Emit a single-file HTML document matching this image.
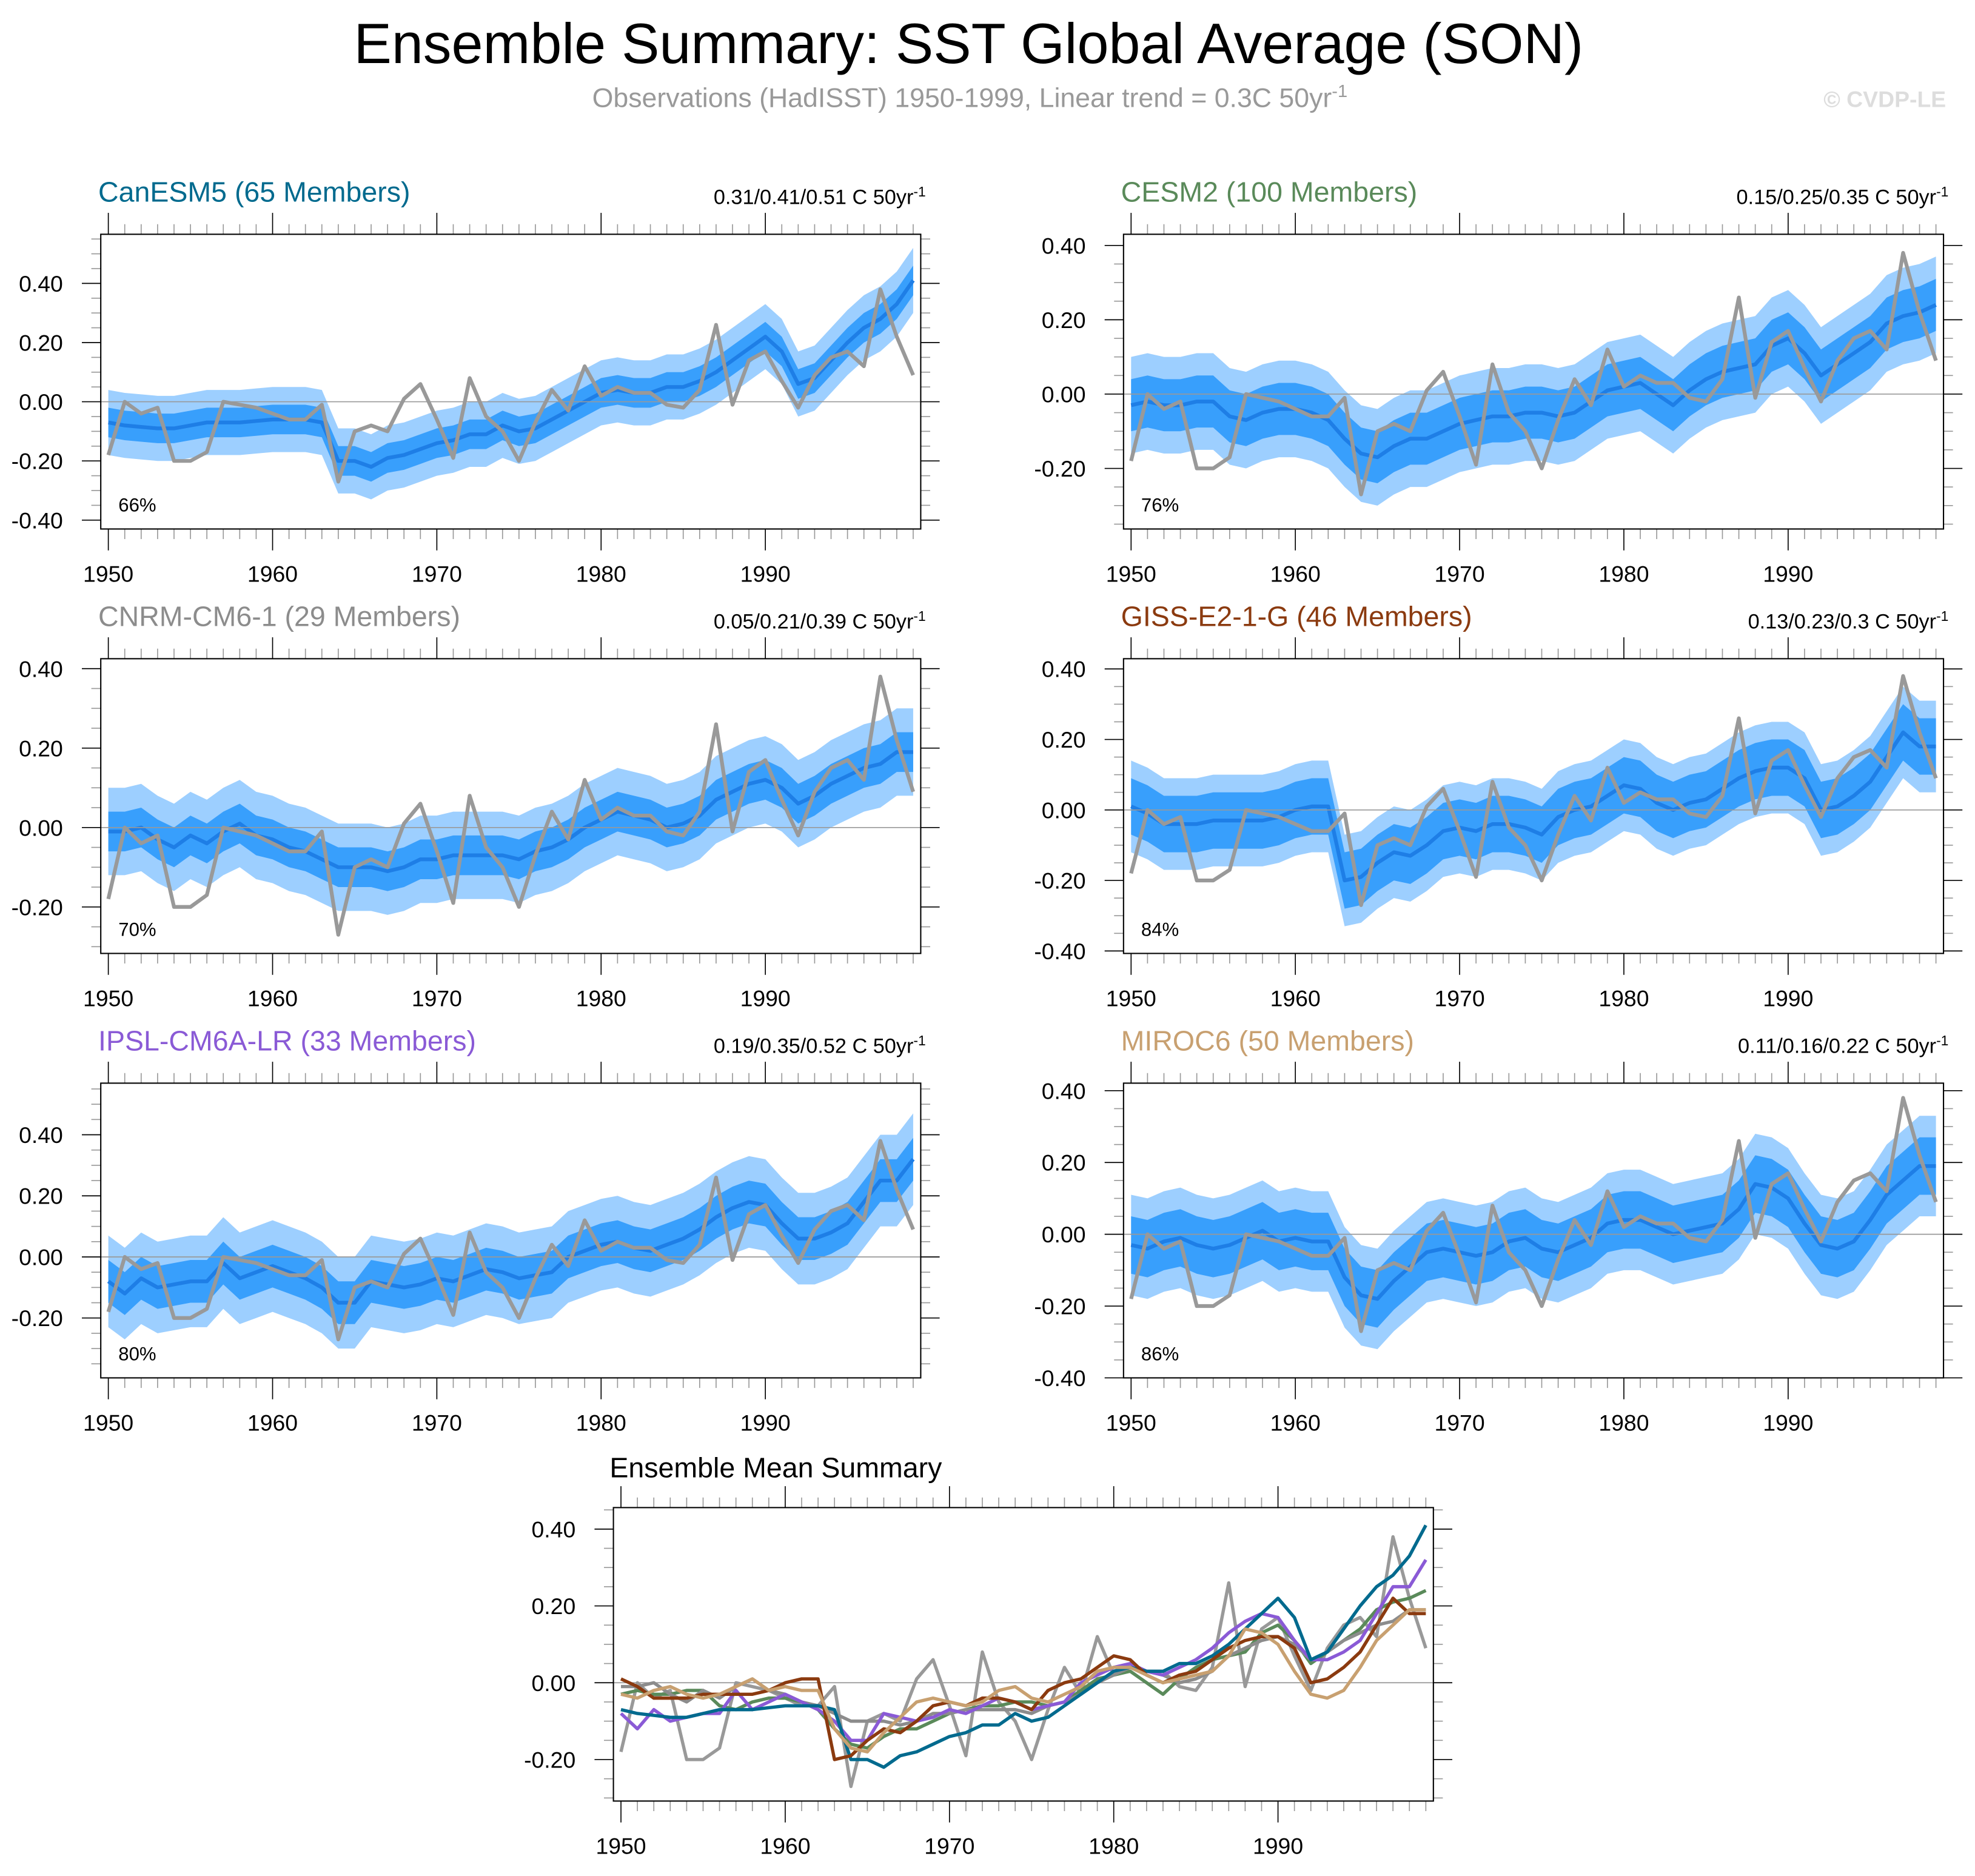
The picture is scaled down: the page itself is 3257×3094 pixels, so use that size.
<!DOCTYPE html>
<html><head><meta charset="utf-8"><style>
html,body{margin:0;padding:0;background:#fff}
svg{display:block;font-family:"Liberation Sans",Arial,sans-serif}
</style></head><body>
<svg id="fig" width="3257" height="3094" viewBox="0 0 1568 1489.5" xmlns="http://www.w3.org/2000/svg">
<rect width="1568" height="1489.5" fill="#fff"/>
<text x="769" y="50" font-size="45" text-anchor="middle" fill="#000">Ensemble Summary: SST Global Average (SON)</text>
<text x="770" y="85" font-size="21.5" text-anchor="middle" fill="#999">Observations (HadISST) 1950-1999, Linear trend = 0.3C 50yr<tspan dy="-8" font-size="14">-1</tspan></text>
<text x="1545" y="85" font-size="18" font-weight="bold" text-anchor="end" fill="#ddd">© CVDP-LE</text>
</svg>
<script>
const years=[];for(let y=1950;y<=1999;y++)years.push(y);
const obs=[-0.18,0.00,-0.04,-0.02,-0.20,-0.20,-0.17,0.00,-0.01,-0.02,-0.04,-0.06,-0.06,-0.01,-0.27,-0.10,-0.08,-0.10,0.01,0.06,-0.06,-0.19,0.08,-0.05,-0.10,-0.20,-0.07,0.04,-0.03,0.12,0.02,0.05,0.03,0.03,-0.01,-0.02,0.04,0.26,-0.01,0.14,0.17,0.07,-0.02,0.09,0.15,0.17,0.12,0.38,0.22,0.09];
const meanCanESM5=[-0.07,-0.08,-0.085,-0.09,-0.09,-0.08,-0.07,-0.07,-0.07,-0.065,-0.06,-0.06,-0.06,-0.07,-0.20,-0.20,-0.22,-0.19,-0.18,-0.16,-0.14,-0.13,-0.11,-0.11,-0.08,-0.10,-0.09,-0.06,-0.03,0.00,0.03,0.04,0.03,0.03,0.05,0.05,0.07,0.10,0.14,0.18,0.22,0.17,0.06,0.08,0.14,0.20,0.25,0.28,0.33,0.41];
const meanCESM2=[-0.03,-0.02,-0.03,-0.03,-0.02,-0.02,-0.06,-0.07,-0.05,-0.04,-0.04,-0.05,-0.07,-0.12,-0.16,-0.17,-0.14,-0.12,-0.12,-0.10,-0.08,-0.07,-0.06,-0.06,-0.05,-0.05,-0.06,-0.05,-0.02,0.01,0.02,0.03,0.00,-0.03,0.01,0.04,0.06,0.07,0.08,0.13,0.15,0.11,0.05,0.08,0.11,0.14,0.19,0.21,0.22,0.24];
const meanCNRM=[-0.01,-0.01,0.00,-0.03,-0.05,-0.02,-0.04,-0.01,0.01,-0.02,-0.03,-0.05,-0.06,-0.08,-0.10,-0.10,-0.10,-0.11,-0.10,-0.08,-0.08,-0.07,-0.07,-0.07,-0.07,-0.08,-0.06,-0.05,-0.03,0.00,0.02,0.04,0.03,0.02,0.00,0.01,0.03,0.07,0.09,0.11,0.12,0.10,0.06,0.08,0.11,0.13,0.15,0.16,0.19,0.19];
const meanGISS=[0.01,-0.01,-0.04,-0.04,-0.04,-0.03,-0.03,-0.03,-0.03,-0.02,0.00,0.01,0.01,-0.20,-0.19,-0.15,-0.12,-0.13,-0.10,-0.06,-0.05,-0.06,-0.04,-0.04,-0.05,-0.07,-0.02,0.00,0.01,0.04,0.07,0.06,0.02,0.00,0.02,0.03,0.06,0.09,0.11,0.12,0.12,0.09,0.00,0.01,0.04,0.08,0.15,0.22,0.18,0.18];
const meanIPSL=[-0.08,-0.12,-0.07,-0.10,-0.09,-0.08,-0.08,-0.02,-0.07,-0.05,-0.03,-0.05,-0.07,-0.10,-0.15,-0.15,-0.08,-0.09,-0.10,-0.09,-0.07,-0.08,-0.06,-0.04,-0.05,-0.07,-0.06,-0.05,0.00,0.02,0.04,0.05,0.03,0.02,0.04,0.06,0.09,0.13,0.16,0.18,0.17,0.11,0.06,0.06,0.08,0.11,0.18,0.25,0.25,0.32];
const meanMIROC=[-0.03,-0.04,-0.02,-0.01,-0.03,-0.04,-0.03,-0.01,0.01,-0.02,-0.01,-0.02,-0.02,-0.12,-0.17,-0.18,-0.13,-0.09,-0.05,-0.04,-0.05,-0.06,-0.05,-0.02,-0.01,-0.04,-0.05,-0.03,-0.01,0.03,0.04,0.04,0.02,0.00,0.01,0.02,0.03,0.07,0.14,0.13,0.10,0.03,-0.03,-0.04,-0.02,0.04,0.11,0.15,0.19,0.19];
const modelNames=["CanESM5 (65 Members)","CESM2 (100 Members)","CNRM-CM6-1 (29 Members)","GISS-E2-1-G (46 Members)","IPSL-CM6A-LR (33 Members)","MIROC6 (50 Members)"];
const trendLabels=["0.31/0.41/0.51","0.15/0.25/0.35","0.05/0.21/0.39","0.13/0.23/0.3","0.19/0.35/0.52","0.11/0.16/0.22"];
const pctLabels=["66%","76%","70%","84%","80%","86%"];
const innerSpread=[0.05,0.07,0.05,0.08,0.07,0.08];
const outerSpread=[0.11,0.13,0.11,0.13,0.15,0.14];
const yTickLabels=[["0.40","0.20","0.00","-0.20","-0.40"],["0.40","0.20","0.00","-0.20"],["0.40","0.20","0.00","-0.20"],["0.40","0.20","0.00","-0.20","-0.40"],["0.40","0.20","0.00","-0.20"],["0.40","0.20","0.00","-0.20","-0.40"]];
const xTickLabels=["1950","1960","1970","1980","1990"];
const means=[meanCanESM5,meanCESM2,meanCNRM,meanGISS,meanIPSL,meanMIROC];
const modelColors=["#006a8e","#5a8a5a","#8c8c8c","#8b3a0f","#8a5ad6","#c8a070"];
const panels=[
 {x:80,y:186,w:651,h:234,ymin:-0.43,ymax:0.566},
 {x:892,y:186,w:651,h:234,ymin:-0.363,ymax:0.43},
 {x:80,y:523,w:651,h:234,ymin:-0.317,ymax:0.425},
 {x:892,y:523,w:651,h:234,ymin:-0.407,ymax:0.429},
 {x:80,y:860,w:651,h:234,ymin:-0.396,ymax:0.569},
 {x:892,y:860,w:651,h:234,ymin:-0.40,ymax:0.421}];
const bottom={x:487,y:1197,w:651,h:233,ymin:-0.308,ymax:0.456};
const X0=1949.54,X1=1999.46;
const svg=document.getElementById('fig');
const NS="http://www.w3.org/2000/svg";
function mk(tag,attrs,parent){const e=document.createElementNS(NS,tag);for(const k in attrs)e.setAttribute(k,attrs[k]);(parent||svg).appendChild(e);return e;}
function axes(p){
 const sx=v=>p.x+(v-X0)/(X1-X0)*p.w;
 const sy=v=>p.y+p.h-(v-p.ymin)/(p.ymax-p.ymin)*p.h;
 return {sx,sy};
}
function pathOf(vals,sx,sy){return vals.map((v,i)=>(i?'L':'M')+sx(years[i]).toFixed(2)+','+sy(v).toFixed(2)).join('');}
function bandOf(vals,s,sx,sy){let d=vals.map((v,i)=>(i?'L':'M')+sx(years[i]).toFixed(2)+','+sy(v+s).toFixed(2)).join('');
 for(let i=vals.length-1;i>=0;i--)d+='L'+sx(years[i]).toFixed(2)+','+sy(vals[i]-s).toFixed(2);return d+'Z';}
function frame(p,g,ax,labels){
 const {sx,sy}=ax;
 mk('line',{x1:p.x,x2:p.x+p.w,y1:sy(0),y2:sy(0),stroke:'#999','stroke-width':0.8},g);
 for(let y=1950;y<=1999;y++){
  const major=(y%10===0);const L=major?17:8;const x=sx(y);
  mk('line',{x1:x,x2:x,y1:p.y+p.h,y2:p.y+p.h+L,stroke:major?'#000':'#999','stroke-width':0.8},g);
  mk('line',{x1:x,x2:x,y1:p.y,y2:p.y-L,stroke:major?'#000':'#999','stroke-width':0.8},g);
 }
 xTickLabels.forEach((lab,i)=>{const t=mk('text',{x:sx(1950+10*i),y:p.y+p.h+42,'font-size':18,'text-anchor':'middle',fill:'#000'},g);
  
  
  t.textContent=lab;});
 for(let k=-20;k<=20;k++){const v=k*0.05;if(v<p.ymin-1e-6||v>p.ymax+1e-6)continue;
  const major=(k%4===0);const L=major?15:7.5;const y=sy(v);
  mk('line',{x1:p.x,x2:p.x-L,y1:y,y2:y,stroke:major?'#000':'#999','stroke-width':0.8},g);
  mk('line',{x1:p.x+p.w,x2:p.x+p.w+L,y1:y,y2:y,stroke:major?'#000':'#999','stroke-width':0.8},g);}
 labels.forEach(lab=>{const v=parseFloat(lab);const t=mk('text',{x:p.x-30,y:sy(v)+6.5,'font-size':18,'text-anchor':'end',fill:'#000'},g);
  
  
  t.textContent=lab;});
 mk('rect',{x:p.x,y:p.y,width:p.w,height:p.h,fill:'none',stroke:'#000','stroke-width':1},g);
}
panels.forEach((p,i)=>{
 const g=mk('g',{});
 
 
 const ax=axes(p);
 const cp='clip'+i;const c=mk('clipPath',{id:cp},g);mk('rect',{x:p.x,y:p.y,width:p.w,height:p.h},c);
 const o=mk('path',{d:bandOf(means[i],outerSpread[i],ax.sx,ax.sy),fill:'#9dcfff','clip-path':'url(#'+cp+')'},g);
 
 
 const n=mk('path',{d:bandOf(means[i],innerSpread[i],ax.sx,ax.sy),fill:'#389ffc','clip-path':'url(#'+cp+')'},g);
 
 
 const m=mk('path',{d:pathOf(means[i],ax.sx,ax.sy),fill:'none',stroke:'#1e7ee6','stroke-width':3,'stroke-linejoin':'round'},g);
 
 
 const ob=mk('path',{d:pathOf(obs,ax.sx,ax.sy),fill:'none',stroke:'#999','stroke-width':3,'stroke-linejoin':'round','clip-path':'url(#'+cp+')'},g);
 
 
 frame(p,g,ax,yTickLabels[i]);
 const t=mk('text',{x:p.x-2,y:p.y-26,'font-size':22.4,fill:modelColors[i]},g);
 
 
 t.textContent=modelNames[i];
 const tr=mk('text',{x:p.x+p.w+4,y:p.y-24,'font-size':16.5,'text-anchor':'end',fill:'#000'},g);
 
 
 tr.textContent=trendLabels[i]+' C 50yr';
 const sp=mk('tspan',{dy:-6,'font-size':11},tr);sp.textContent='-1';
 const pc=mk('text',{x:p.x+14,y:p.y+p.h-14,'font-size':15,fill:'#000'},g);
 
 
 pc.textContent=pctLabels[i];
});
(function(){
 const p=bottom;const g=mk('g',{});
 
 
 const ax=axes(p);
 const c=mk('clipPath',{id:'clipb'},g);mk('rect',{x:p.x,y:p.y,width:p.w,height:p.h},c);
 frame(p,g,ax,["0.40","0.20","0.00","-0.20"]);
 const ob=mk('path',{d:pathOf(obs,ax.sx,ax.sy),fill:'none',stroke:'#999','stroke-width':2.6,'stroke-linejoin':'round'},g);
 
 
 const order=[1,2,4,0,3,5];
 order.forEach(i=>{const l=mk('path',{d:pathOf(means[i],ax.sx,ax.sy),fill:'none',stroke:modelColors[i],'stroke-width':2.6,'stroke-linejoin':'round','clip-path':'url(#clipb)'},g);
  
  });
 const t=mk('text',{x:p.x-3,y:p.y-24,'font-size':22.4,fill:'#000'},g);
 
 
 t.textContent='Ensemble Mean Summary';
})();
</script>
</body></html>
